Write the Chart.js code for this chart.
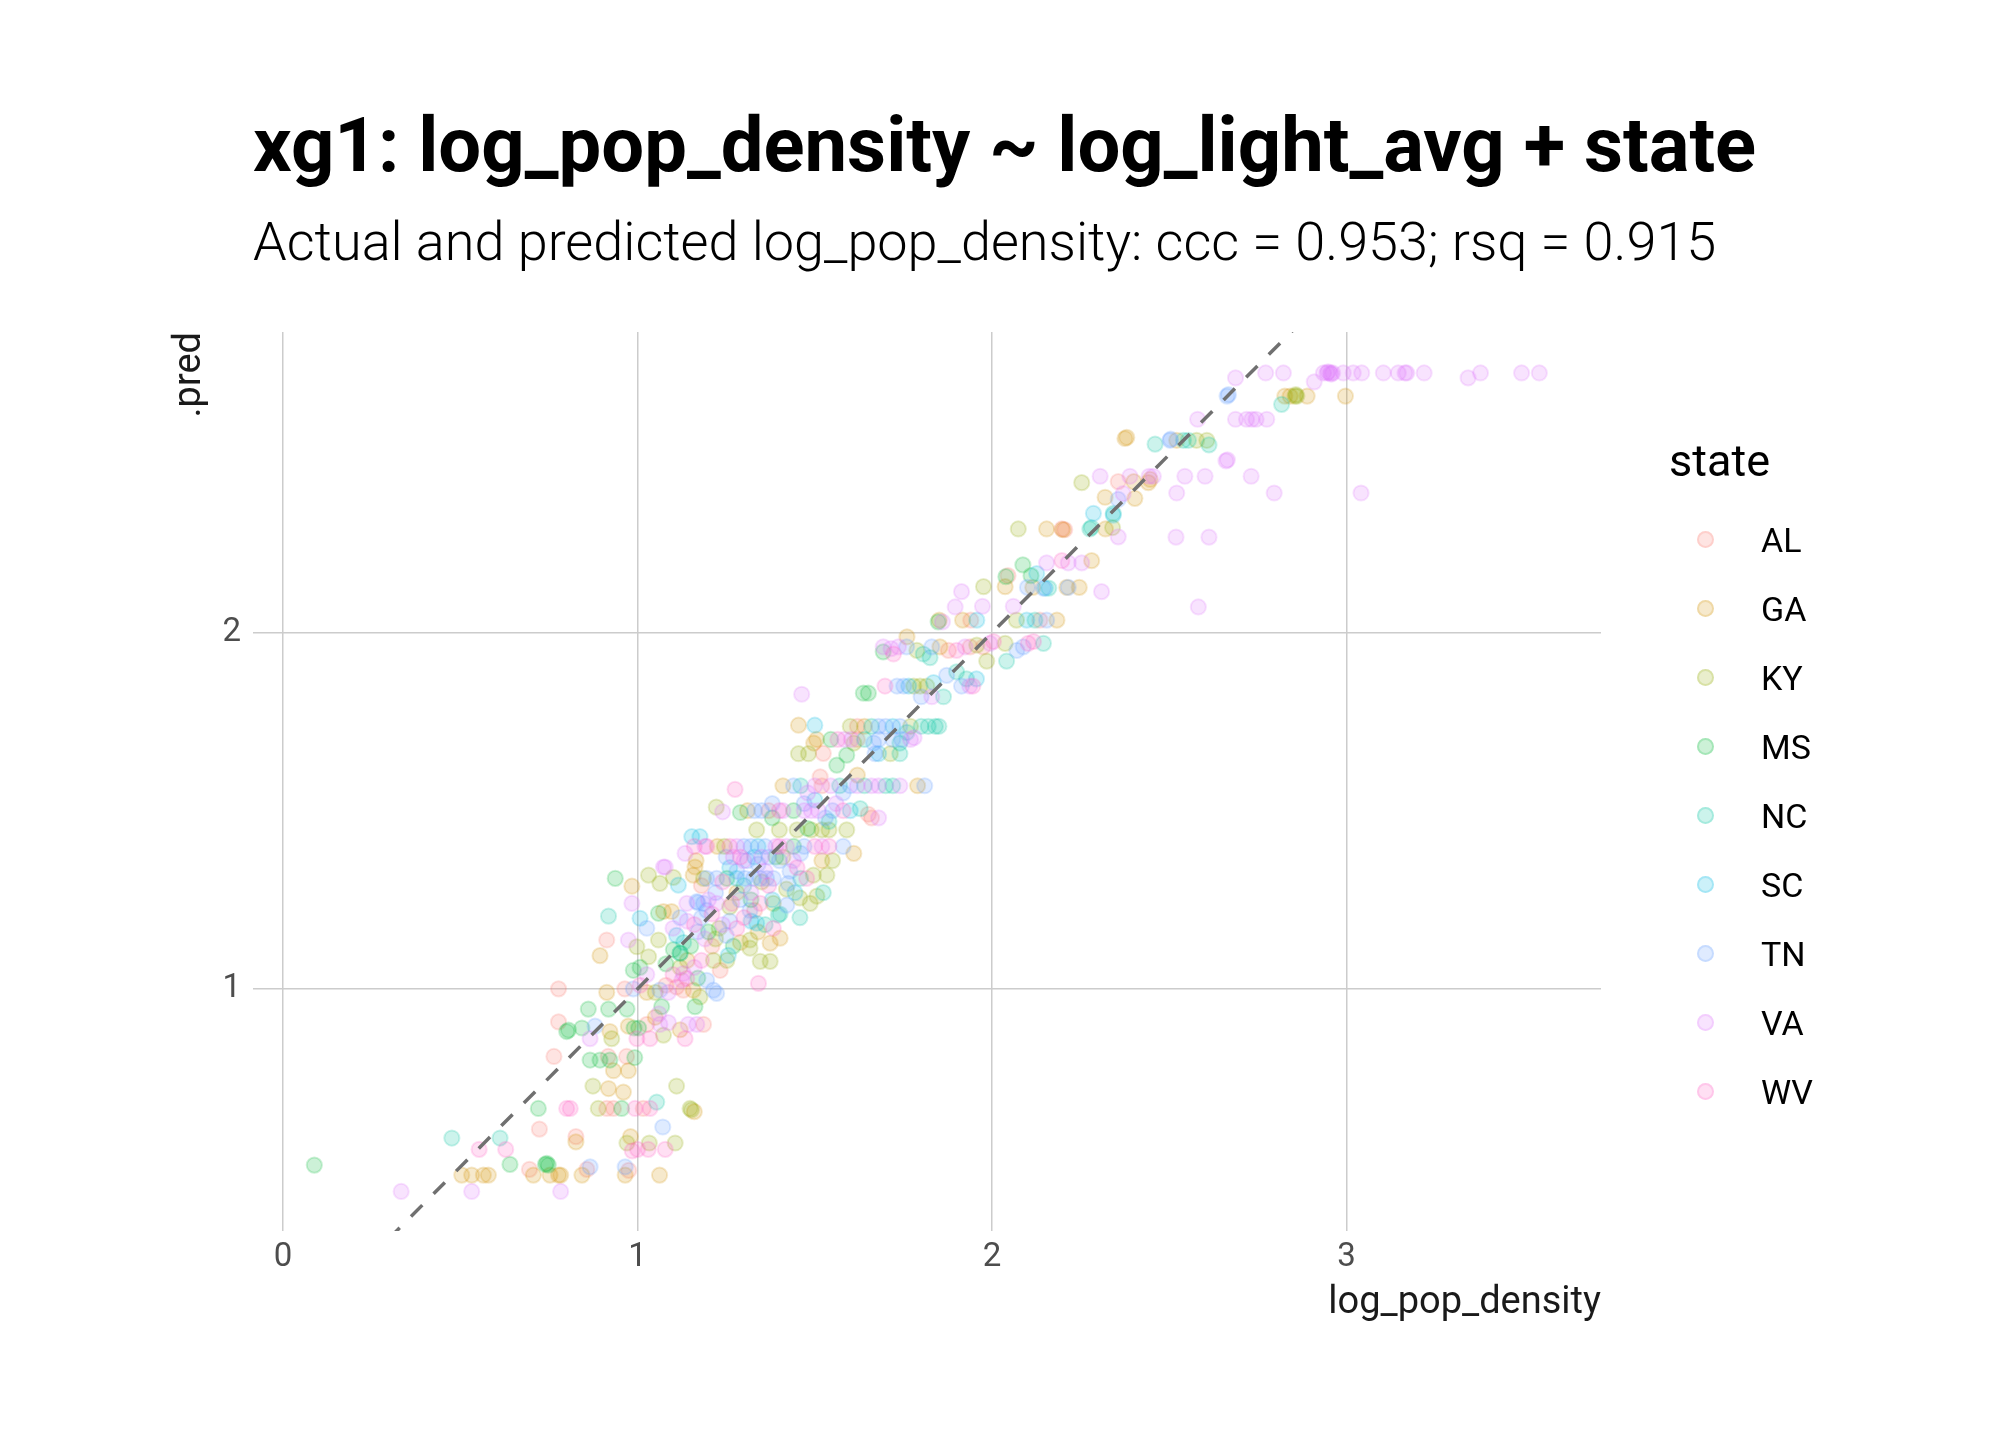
<!DOCTYPE html>
<html lang="en">
<head>
<meta charset="UTF-8">
<title>xg1: log_pop_density ~ log_light_avg + state</title>
<script src="https://cdn.jsdelivr.net/npm/chart.js"></script>
<style>
    body { margin: 0; background: #fff; }
    #wrap { position: relative; width: 2016px; height: 1440px; font-family: Roboto, "Open Sans", sans-serif; color: #000; }
    #plot { position: absolute; left: 0; top: 0; }
    .title { position: absolute; left: 253px; top: 107px; font-size: 76px; font-weight: 700; line-height: 1; white-space: nowrap; }
    .subtitle { position: absolute; left: 253px; top: 215px; font-size: 54px; font-weight: 300; line-height: 1; white-space: nowrap; }
    .legend-title { position: absolute; left: 1669px; top: 438px; font-size: 45px; line-height: 1; }
    .legend-key { position: absolute; width: 17px; height: 17px; box-sizing: border-box; border-radius: 50%; border: 2px solid; }
    .legend-label { position: absolute; left: 1761px; font-size: 34px; line-height: 1; }
</style>
</head>
<body>
<div id="wrap">
    <canvas id="plot" width="2016" height="1440"></canvas>
    <div class="title">xg1: log_pop_density ~ log_light_avg + state</div>
    <div class="subtitle">Actual and predicted log_pop_density: ccc = 0.953; rsq = 0.915</div>
    <div class="legend-title">state</div>
    <div id="legend"></div>
</div>

<script>
// axis setup
const xTicks = [0, 1, 2, 3];
const yTicks = [1, 2];
const xRange = [-0.085, 3.718];
const yRange = [0.32, 2.844];

const states = ['AL', 'GA', 'KY', 'MS', 'NC', 'SC', 'TN', 'VA', 'WV'];
const stateColors = ['#F8766D', '#D39200', '#93AA00', '#00BA38', '#00C19F', '#00B9E3', '#619CFF', '#DB72FB', '#FF61C3'];

// [log_pop_density, .pred] per state
const AL = [[2.356,2.424],[2.197,2.291],[2.205,2.289],[2.045,2.160],[1.940,2.035],[2.135,2.035],[1.877,1.950],[1.938,1.960],
    [1.975,1.960],[1.620,1.737],[1.620,1.700],[1.524,1.661],[1.515,1.595],[1.520,1.570],[1.370,1.500],[1.660,1.480],[1.651,1.490],
    [1.233,1.052],[1.129,0.996],[1.110,1.005],[0.964,1.000],[0.777,1.000],[0.913,1.137],[1.210,1.120],[0.777,0.907],[1.026,0.900],
    [1.186,0.900],[0.764,0.810],[0.917,0.810],[0.969,0.810],[0.913,0.664],[0.932,0.664],[1.016,0.664],[0.723,0.606],[0.826,0.585],
    [0.695,0.493],[0.857,0.493],[0.975,0.490],[1.330,1.220],[1.180,1.290],[1.080,1.010]];
const GA = [[2.826,2.664],[2.841,2.664],[2.889,2.664],[2.997,2.664],[2.521,2.540],[2.375,2.545],[2.380,2.548],[2.446,2.430],
    [2.400,2.424],[2.441,2.421],[2.319,2.380],[2.403,2.377],[2.154,2.291],[2.200,2.289],[2.320,2.291],[2.281,2.202],[2.037,2.129],
    [2.115,2.127],[2.211,2.127],[2.246,2.127],[1.851,2.035],[1.917,2.035],[2.183,2.035],[1.853,1.960],[1.760,1.988],[1.454,1.740],
    [1.640,1.737],[1.505,1.700],[1.497,1.690],[1.410,1.570],[1.790,1.570],[1.310,1.500],[1.165,1.360],[1.225,1.400],[1.610,1.380],
    [1.157,1.319],[1.162,1.342],[1.073,1.217],[1.096,1.217],[1.402,1.142],[1.374,1.128],[1.290,1.130],[1.340,1.160],[0.984,1.288],
    [0.894,1.093],[0.913,0.990],[1.026,0.990],[1.157,0.996],[0.922,0.880],[0.974,0.895],[1.120,0.885],[0.932,0.770],[0.974,0.770],
    [0.918,0.720],[0.960,0.710],[1.160,0.655],[0.826,0.570],[0.980,0.585],[0.504,0.477],[0.532,0.477],[0.565,0.477],[0.579,0.477],
    [0.706,0.477],[0.753,0.477],[0.777,0.477],[0.783,0.477],[0.843,0.477],[0.965,0.477],[1.062,0.477],[1.280,1.270],[1.140,1.080],
    [1.520,1.360],[1.620,1.600],[1.050,0.920]];
const KY = [[2.855,2.664],[2.860,2.664],[2.857,2.668],[2.577,2.540],[2.606,2.540],[2.253,2.421],[2.074,2.291],[2.340,2.295],
    [1.976,2.129],[2.069,2.035],[1.788,1.950],[1.957,1.965],[1.985,1.920],[2.037,1.970],[1.779,1.850],[1.797,1.850],[1.816,1.850],
    [1.600,1.737],[1.770,1.737],[1.454,1.660],[1.482,1.660],[1.610,1.690],[1.713,1.660],[1.222,1.510],[1.336,1.446],[1.400,1.446],
    [1.450,1.446],[1.490,1.446],[1.520,1.446],[1.540,1.446],[1.590,1.446],[1.245,1.400],[1.410,1.370],[1.063,1.296],[1.101,1.313],
    [1.186,1.310],[1.031,1.319],[1.496,1.319],[1.534,1.319],[1.383,1.240],[1.458,1.255],[1.487,1.240],[1.506,1.260],[1.220,1.140],
    [1.230,1.170],[1.317,1.137],[1.317,1.114],[1.346,1.077],[1.374,1.077],[1.214,1.080],[1.252,1.080],[0.998,1.118],[1.059,1.137],
    [1.031,1.090],[1.050,0.990],[1.176,0.977],[0.927,0.860],[1.073,0.870],[0.874,0.727],[1.110,0.727],[0.889,0.664],[1.148,0.664],
    [1.152,0.660],[0.970,0.567],[1.033,0.567],[1.106,0.567],[1.350,1.300],[1.260,1.230],[1.550,1.360],[1.120,1.060],[1.420,1.280]];
const MS = [[2.087,2.190],[2.039,2.157],[2.110,2.160],[1.848,2.030],[1.693,1.946],[1.637,1.830],[1.651,1.830],[1.545,1.700],
    [1.562,1.628],[1.590,1.656],[1.290,1.495],[1.380,1.480],[1.440,1.500],[1.440,1.400],[1.390,1.370],[1.252,1.310],[1.059,1.212],
    [1.200,1.160],[1.150,1.120],[1.270,1.120],[1.101,1.110],[1.120,1.100],[0.937,1.310],[0.988,1.052],[1.007,1.060],[0.861,0.943],
    [0.918,0.943],[0.970,0.943],[1.068,0.950],[1.162,0.950],[0.800,0.880],[0.805,0.884],[0.843,0.890],[0.990,0.890],[1.003,0.890],
    [0.866,0.800],[0.894,0.800],[0.922,0.800],[0.992,0.807],[0.720,0.664],[0.955,0.664],[0.088,0.505],[0.640,0.507],[0.740,0.507],
    [0.744,0.510],[0.748,0.505],[1.320,1.250],[1.170,1.030],[1.080,1.070],[1.480,1.450]];
const NC = [[2.817,2.641],[2.460,2.529],[2.540,2.540],[2.554,2.540],[2.612,2.527],[2.342,2.335],[2.276,2.291],[2.280,2.295],
    [2.160,2.125],[2.121,2.035],[1.806,1.940],[1.825,1.930],[2.041,1.920],[2.145,1.970],[1.900,1.890],[1.928,1.870],[1.863,1.820],
    [1.660,1.737],[1.800,1.737],[1.820,1.737],[1.840,1.737],[1.850,1.737],[1.640,1.700],[1.740,1.660],[1.740,1.690],[1.760,1.720],
    [1.460,1.570],[1.570,1.570],[1.640,1.570],[1.700,1.570],[1.720,1.570],[1.628,1.506],[1.524,1.270],[1.402,1.210],[1.397,1.207],
    [1.458,1.200],[1.130,1.130],[1.360,1.180],[1.120,1.100],[0.918,1.204],[1.054,0.682],[0.476,0.581],[0.612,0.581],[1.300,1.290],
    [1.460,1.310],[1.540,1.470]];
const SC = [[2.286,2.335],[2.342,2.330],[2.126,2.166],[2.150,2.125],[1.957,2.035],[2.098,2.035],[1.956,1.870],[1.765,1.850],
    [1.835,1.860],[1.500,1.740],[1.720,1.737],[1.680,1.660],[1.600,1.500],[1.153,1.427],[1.176,1.427],[1.340,1.400],[1.330,1.370],
    [1.115,1.291],[1.280,1.310],[1.444,1.270],[1.336,1.184],[1.110,1.150],[1.320,1.190],[1.256,1.094],[1.007,1.198],[1.260,1.340],
    [1.380,1.250],[1.500,1.530]];
const TN = [[2.663,2.664],[2.667,2.668],[2.502,2.540],[2.504,2.543],[2.356,2.374],[2.100,2.127],[2.145,2.125],[2.215,2.127],
    [2.154,2.035],[1.759,1.960],[1.830,1.960],[2.070,1.950],[2.088,1.960],[1.872,1.880],[1.732,1.850],[1.751,1.850],[1.914,1.850],
    [1.800,1.820],[1.680,1.737],[1.700,1.737],[1.740,1.737],[1.680,1.700],[1.720,1.700],[1.745,1.700],[1.670,1.660],[1.666,1.690],
    [1.440,1.570],[1.600,1.570],[1.810,1.570],[1.330,1.500],[1.350,1.500],[1.530,1.480],[1.550,1.500],[1.300,1.400],[1.320,1.400],
    [1.360,1.400],[1.470,1.400],[1.580,1.400],[1.250,1.370],[1.370,1.370],[1.310,1.360],[1.195,1.310],[1.223,1.310],[1.303,1.310],
    [1.327,1.310],[1.346,1.310],[1.364,1.310],[1.383,1.310],[1.425,1.296],[1.167,1.245],[1.170,1.242],[1.186,1.240],[1.195,1.220],
    [1.289,1.250],[1.317,1.220],[1.421,1.235],[1.120,1.200],[1.180,1.200],[1.260,1.190],[1.170,1.160],[1.250,1.150],[1.026,1.170],
    [1.195,1.024],[1.214,0.996],[1.223,0.987],[0.988,1.000],[1.063,0.996],[0.880,0.895],[0.866,0.500],[0.965,0.500],[1.071,0.612],
    [1.400,1.360],[1.460,1.380],[1.280,1.330],[1.340,1.350],[1.220,1.270],[1.430,1.330],[1.380,1.520],[1.470,1.520],[1.580,1.550]];
const VA = [[2.772,2.729],[2.822,2.729],[2.935,2.729],[2.945,2.729],[2.948,2.732],[2.954,2.729],[2.957,2.726],[2.961,2.729],
    [2.991,2.729],[3.019,2.729],[3.043,2.729],[3.104,2.729],[3.146,2.729],[3.165,2.729],[3.170,2.729],[3.219,2.729],[3.343,2.715],
    [3.378,2.729],[3.494,2.729],[3.544,2.729],[2.687,2.715],[2.909,2.704],[2.580,2.599],[2.687,2.599],[2.718,2.599],[2.733,2.599],
    [2.745,2.599],[2.775,2.599],[2.660,2.482],[2.664,2.485],[2.305,2.439],[2.389,2.439],[2.443,2.439],[2.455,2.439],[2.544,2.439],
    [2.601,2.439],[2.731,2.439],[2.370,2.390],[2.521,2.392],[2.796,2.392],[3.041,2.392],[2.356,2.269],[2.519,2.268],[2.612,2.268],
    [2.154,2.196],[2.215,2.196],[2.253,2.196],[1.914,2.115],[2.309,2.115],[1.896,2.072],[1.973,2.074],[2.060,2.074],[2.582,2.072],
    [1.860,2.030],[1.693,1.960],[1.736,1.960],[1.924,1.960],[1.994,1.970],[1.715,1.955],[1.937,1.850],[1.830,1.820],[1.463,1.827],
    [1.584,1.700],[1.603,1.700],[1.770,1.700],[1.780,1.705],[1.500,1.570],[1.545,1.570],[1.620,1.570],[1.660,1.570],[1.680,1.570],
    [1.740,1.570],[1.240,1.497],[1.410,1.500],[1.470,1.500],[1.490,1.500],[1.510,1.500],[1.680,1.480],[1.134,1.380],[1.190,1.400],
    [1.280,1.400],[1.390,1.400],[1.420,1.400],[1.520,1.400],[1.270,1.370],[1.350,1.370],[1.073,1.342],[1.078,1.342],[1.139,1.240],
    [1.223,1.240],[1.140,1.190],[1.240,1.180],[1.190,1.140],[1.100,1.170],[0.984,1.240],[0.974,1.137],[1.129,1.043],[1.125,1.024],
    [1.026,1.040],[1.087,0.990],[1.063,0.900],[1.087,0.905],[1.143,0.900],[1.167,0.900],[0.866,0.860],[0.333,0.431],[0.532,0.431],
    [0.783,0.431],[1.300,1.360],[1.440,1.360],[1.360,1.330],[1.200,1.250],[1.320,1.270],[1.480,1.550],[1.560,1.520],[1.160,1.060],
    [1.060,0.930]];
const WV = [[2.197,2.202],[1.722,1.940],[1.900,1.950],[2.004,1.975],[2.102,1.970],[2.117,1.975],[1.698,1.850],[1.946,1.850],
    [1.565,1.700],[1.275,1.560],[1.400,1.500],[1.580,1.500],[1.160,1.400],[1.195,1.400],[1.260,1.400],[1.400,1.400],[1.500,1.400],
    [1.540,1.400],[1.290,1.370],[1.477,1.310],[1.266,1.240],[1.346,1.240],[1.160,1.180],[1.280,1.170],[1.300,1.200],[1.383,1.170],
    [1.341,1.015],[1.139,1.029],[1.007,1.010],[0.998,0.860],[1.035,0.860],[1.134,0.860],[0.800,0.664],[0.810,0.664],[0.993,0.664],
    [1.035,0.664],[0.553,0.549],[0.628,0.549],[0.985,0.545],[1.000,0.549],[1.030,0.549],[1.078,0.549],[1.240,1.300],[1.450,1.340],
    [1.210,1.210],[1.370,1.290],[1.100,1.040],[1.180,1.080]];

const seriesByState = { AL, GA, KY, MS, NC, SC, TN, VA, WV };

function rgba(hex, a) {
    const n = parseInt(hex.slice(1), 16);
    return `rgba(${(n >> 16) & 255}, ${(n >> 8) & 255}, ${n & 255}, ${a})`;
}

const pointDatasets = states.map((s, i) => ({
    label: s,
    data: seriesByState[s].map(([x, y]) => ({ x, y })),
    backgroundColor: rgba(stateColors[i], 0.2),
    borderColor: rgba(stateColors[i], 0.2),
    borderWidth: 2,
    pointRadius: 7.6,
    pointHoverRadius: 7.6,
    order: states.length - i
}));

// identity line across the x range (clipped by the chart area)
const identityLine = {
    type: 'line',
    label: 'identity',
    data: xRange.map(v => ({ x: v, y: v })),
    borderColor: '#707070',
    borderWidth: 3.5,
    borderDash: [16, 16],
    pointRadius: 0,
    fill: false,
    order: 0
};

const gridOpts = { color: '#cccccc', lineWidth: 1.5, drawTicks: false };
const tickFont = { family: 'Roboto', size: 33 };
const titleFont = { family: 'Roboto', size: 38 };

new Chart(document.getElementById('plot'), {
    type: 'scatter',
    data: { datasets: [identityLine, ...pointDatasets] },
    options: {
        responsive: false,
        animation: false,
        devicePixelRatio: 1,
        layout: { padding: { left: 168, right: 415, top: 332, bottom: 114 } },
        plugins: { legend: { display: false }, tooltip: { enabled: false } },
        scales: {
            x: {
                type: 'linear',
                min: xRange[0],
                max: xRange[1],
                afterBuildTicks: axis => { axis.ticks = xTicks.map(v => ({ value: v })); },
                afterFit: axis => { axis.height = 95; },
                grid: gridOpts,
                border: { display: false },
                ticks: { padding: 7, color: '#4d4d4d', font: tickFont },
                title: { display: true, text: 'log_pop_density', align: 'end', color: '#1a1a1a', font: titleFont, padding: 0 }
            },
            y: {
                type: 'linear',
                min: yRange[0],
                max: yRange[1],
                afterBuildTicks: axis => { axis.ticks = yTicks.map(v => ({ value: v })); },
                afterFit: axis => { axis.width = 85; },
                grid: gridOpts,
                border: { display: false },
                ticks: { padding: 12, color: '#4d4d4d', font: tickFont },
                title: { display: true, text: '.pred', align: 'end', color: '#1a1a1a', font: titleFont, padding: 0 }
            }
        }
    }
});

// legend
const legend = document.getElementById('legend');
states.forEach((s, i) => {
    const cy = 539 + i * 69.1;
    const key = document.createElement('div');
    key.className = 'legend-key';
    key.style.left = (1705 - 8.5) + 'px';
    key.style.top = (cy - 8.5) + 'px';
    key.style.background = rgba(stateColors[i], 0.2);
    key.style.borderColor = rgba(stateColors[i], 0.2);
    legend.appendChild(key);
    const label = document.createElement('div');
    label.className = 'legend-label';
    label.style.top = (cy - 16.5) + 'px';
    label.textContent = s;
    legend.appendChild(label);
});
</script>
</body>
</html>
